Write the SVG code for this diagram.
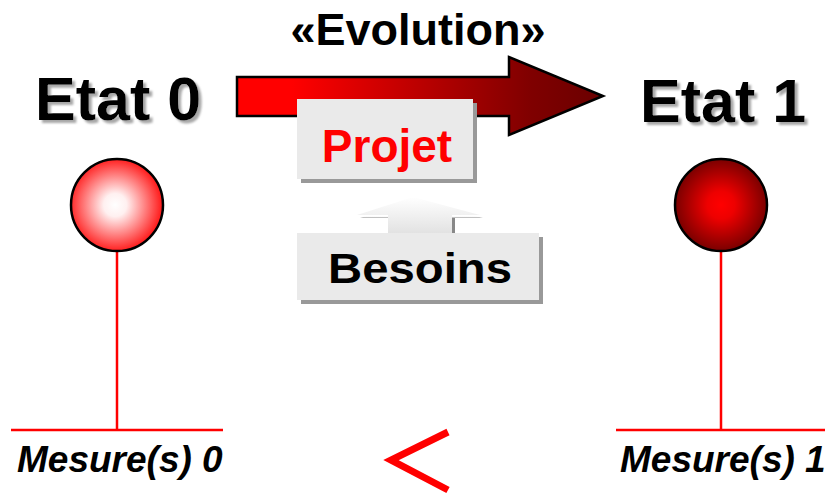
<svg xmlns="http://www.w3.org/2000/svg" width="825" height="496" viewBox="0 0 825 496">
<style>
.t{font-family:"Liberation Sans",Arial,sans-serif;font-weight:bold}
.etat{font-size:61px;fill:#000;filter:url(#txtSh)}
.mes{font-size:37px;font-style:italic;fill:#000}
.ln{stroke:#ff0000;stroke-width:2.5;fill:none}
.box{fill:#eaeaea}
.boxsh{fill:#999}
</style>
<defs>
<filter id="txtSh" x="-10%" y="-20%" width="130%" height="150%">
<feGaussianBlur in="SourceAlpha" stdDeviation="0.8" result="b"/>
<feOffset in="b" dx="3" dy="3" result="o"/>
<feFlood flood-color="#a8a8a8"/>
<feComposite in2="o" operator="in" result="s"/>
<feMerge><feMergeNode in="s"/><feMergeNode in="SourceGraphic"/></feMerge>
</filter>
<linearGradient id="gArrow" gradientUnits="userSpaceOnUse" x1="237" y1="0" x2="603" y2="0">
<stop offset="0" stop-color="#ff0000"/>
<stop offset="0.15" stop-color="#ff0000"/>
<stop offset="0.8" stop-color="#800000"/>
<stop offset="1" stop-color="#6a0000"/>
</linearGradient>
<radialGradient id="gC0" cx="0.48" cy="0.5" r="0.5">
<stop offset="0" stop-color="#ffffff"/>
<stop offset="0.25" stop-color="#fff0f0"/>
<stop offset="1" stop-color="#ff2020"/>
</radialGradient>
<radialGradient id="gC1" cx="0.5" cy="0.5" r="0.5">
<stop offset="0" stop-color="#ff0000"/>
<stop offset="0.3" stop-color="#ee0000"/>
<stop offset="1" stop-color="#7a0000"/>
</radialGradient>
<linearGradient id="gUp" x1="0" y1="0" x2="0" y2="1">
<stop offset="0" stop-color="#ffffff"/>
<stop offset="1" stop-color="#e2e2e2"/>
</linearGradient>
<linearGradient id="gUpSh" x1="0" y1="0" x2="0" y2="1">
<stop offset="0" stop-color="#ffffff" stop-opacity="0"/>
<stop offset="0.45" stop-color="#ffffff" stop-opacity="0"/>
<stop offset="0.5" stop-color="#888888"/>
<stop offset="1" stop-color="#888888"/>
</linearGradient>
</defs>

<g id="evolution-label">
<text class="t" x="418" y="45" font-size="45" text-anchor="middle" fill="#000">«Evolution»</text>
</g>

<g id="connectors">
<path id="evolution-arrow" d="M237,77 H509 V57 L603,96 L509,135 V116 H237 Z" fill="url(#gArrow)" stroke="#000" stroke-width="2.5" stroke-linejoin="miter"/>
<line class="ln" x1="117" y1="252" x2="117" y2="430"/>
<line class="ln" x1="11" y1="430" x2="223" y2="430"/>
<line class="ln" x1="721" y1="252" x2="721" y2="430"/>
<line class="ln" x1="616" y1="430" x2="825" y2="430"/>
<path id="besoins-arrow-shadow" d="M416,200 L483,218 H455 V236 H391 V218 H360 Z" fill="url(#gUpSh)"/>
<path id="besoins-arrow" d="M413,197 L480,215 H452 V233 H388 V215 H357 Z" fill="url(#gUp)"/>
</g>

<g id="etat0">
<text class="t etat" x="35" y="120">Etat 0</text>
</g>

<g id="etat1">
<text class="t etat" x="640" y="122">Etat 1</text>
</g>

<g id="projet">
<rect class="boxsh" x="301" y="103" width="176" height="80"/>
<rect class="box" x="297" y="99" width="176" height="80"/>
<text class="t" x="387" y="162" font-size="46" text-anchor="middle" fill="#ff0000">Projet</text>
</g>

<g id="besoins">
<rect class="boxsh" x="301" y="237" width="242" height="67"/>
<rect class="box" x="297" y="233" width="242" height="67"/>
<text class="t" x="420" y="283" font-size="43" text-anchor="middle" fill="#000" textLength="184" lengthAdjust="spacingAndGlyphs">Besoins</text>
</g>

<g id="etat0-circle">
<circle cx="117" cy="205" r="46" fill="url(#gC0)" stroke="#000" stroke-width="2.5"/>
</g>

<g id="etat1-circle">
<circle cx="721" cy="205" r="46" fill="url(#gC1)" stroke="#000" stroke-width="2.5"/>
</g>

<g id="mesure0">
<text class="t mes" x="17" y="472">Mesure(s) 0</text>
</g>

<g id="mesure1">
<text class="t mes" x="620" y="472">Mesure(s) 1</text>
</g>

<g id="comparison">
<polyline points="448,432 391,460 448,490" fill="none" stroke="#ff0000" stroke-width="7"/>
</g>
</svg>
